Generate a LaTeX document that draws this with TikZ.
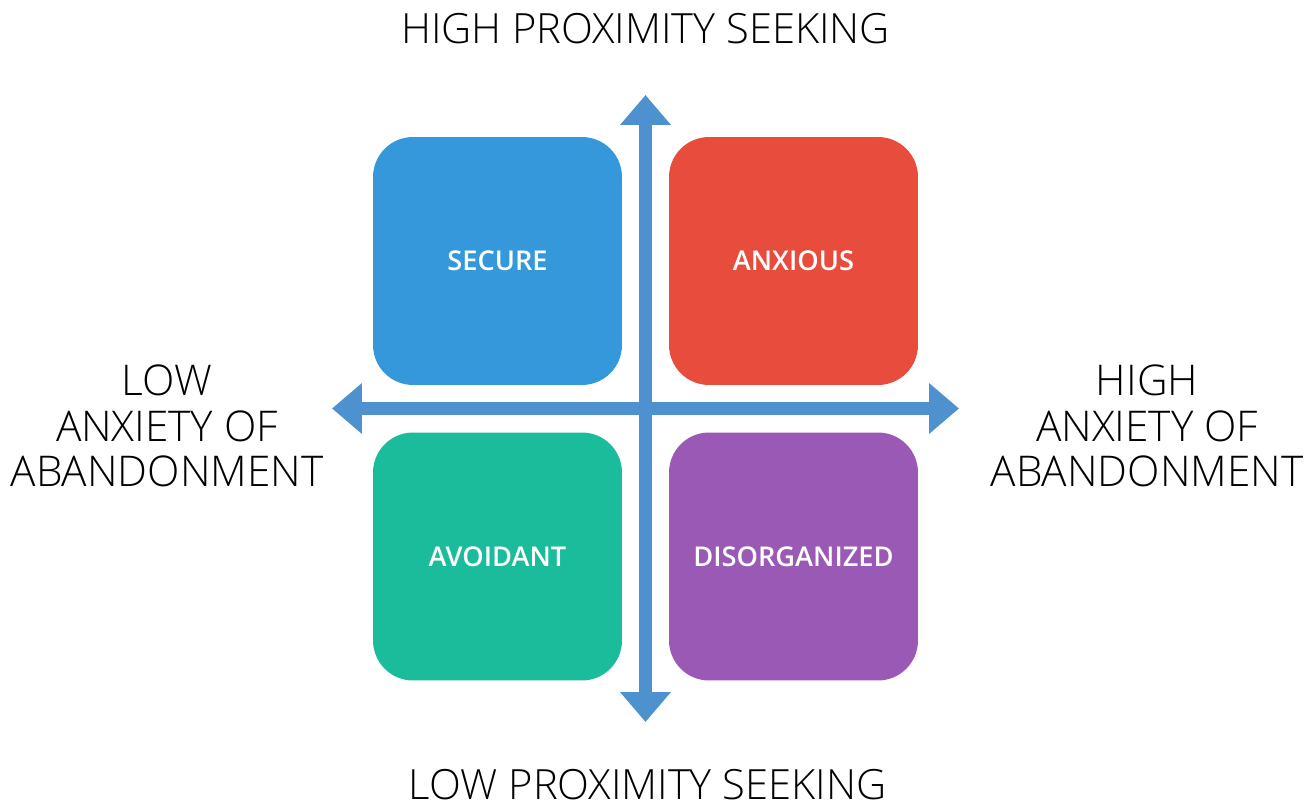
\documentclass[tikz,border=0pt]{standalone}
\usepackage{fontspec}
\IfFontExistsTF{Open Sans Light}
	{\setmainfont{Open Sans Light}[BoldFont={Open Sans Semibold}]}
	{\setmainfont{Open Sans}}
\usepackage{tikz}
\usetikzlibrary{arrows.meta}

\definecolor{axisblue}{RGB}{77,146,206}
\definecolor{secureblue}{RGB}{52,152,219}
\definecolor{anxiousred}{RGB}{231,76,60}
\definecolor{avoidgreen}{RGB}{26,188,156}
\definecolor{disorgpurple}{RGB}{155,89,182}

\tikzset{
	quad/.style={fill=#1, draw=none, rounded corners=0.8cm, minimum width=4.98cm, minimum height=4.96cm, text=white, font=\fontsize{15.5}{17}\selectfont\bfseries},
	axisline/.style={draw=axisblue, line width=7.2pt, {Triangle[width=27.8pt,length=17pt]}-{Triangle[width=27.8pt,length=17pt]}},
	sidelabel/.style={align=center, font=\fontsize{24.1}{26}\selectfont},
}

\begin{document}
\begin{tikzpicture}[x=0.02cm, y=-0.02cm]
	\useasboundingbox (0,0) rectangle (1310,811);
	%\draw[help lines] (0,0) grid[step=50] (1310,811);
	\node[quad=secureblue] (secure) at (497.5,261) {SECURE};
	\node[quad=anxiousred] (anxious) at (793.5,261) {ANXIOUS};
	\node[quad=avoidgreen] (avoidant) at (497.5,556.5) {AVOIDANT};
	\node[quad=disorgpurple] (disorg) at (793.5,556.5) {DISORGANIZED};

	\coordinate (top) at (645.5,95);
	\coordinate (bottom) at (645.5,722);
	\coordinate (left) at (332,408.5);
	\coordinate (right) at (959,408.5);
	\draw[axisline] (top) -- (bottom);
	\draw[axisline] (left) -- (right);

	\node[font=\fontsize{23.7}{26}\selectfont] (highprox) at (645.5,29) {HIGH PROXIMITY SEEKING};
	\node[font=\fontsize{23.7}{26}\selectfont] (lowprox) at (647.5,785) {LOW PROXIMITY SEEKING};
	\node[sidelabel] (lowanx) at (167,426) {LOW\\ANXIETY OF\\ABANDONMENT};
	\node[sidelabel] (highanx) at (1147,426) {HIGH\\ANXIETY OF\\ABANDONMENT};
\end{tikzpicture}
\end{document}
